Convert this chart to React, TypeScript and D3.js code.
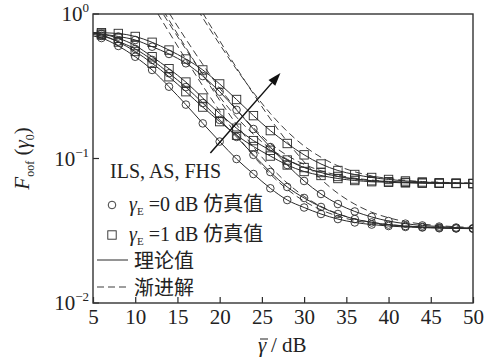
import React, { useEffect, useRef } from 'react';
import * as d3 from 'd3';

// x grid of the theory curves (markers are drawn from x = 6 on)
const gridX = [5, 6, 8, 10, 12, 14, 16, 18, 20, 22, 24, 26, 28, 30, 32, 34, 36, 38, 40, 42, 44, 46, 48, 50];

// gamma_E = 1 dB (squares)
const sq1 = [0.745, 0.742, 0.733, 0.699, 0.637, 0.563, 0.488, 0.41, 0.328, 0.256, 0.198, 0.156, 0.127, 0.106, 0.0916, 0.0826, 0.0775, 0.0739, 0.0716, 0.0699, 0.0688, 0.0679, 0.0675, 0.0671];
const sq2 = [0.739, 0.727, 0.679, 0.605, 0.506, 0.418, 0.338, 0.262, 0.205, 0.162, 0.133, 0.114, 0.0976, 0.0866, 0.08, 0.0751, 0.0721, 0.0702, 0.0691, 0.0684, 0.0678, 0.0675, 0.0673, 0.0671];
const sq3 = [0.733, 0.716, 0.64, 0.55, 0.456, 0.368, 0.29, 0.227, 0.18, 0.145, 0.121, 0.104, 0.0902, 0.0813, 0.0763, 0.0727, 0.0704, 0.0691, 0.0684, 0.0678, 0.0675, 0.0673, 0.0671, 0.0671];

// gamma_E = 0 dB (circles)
const ci1 = [0.739, 0.727, 0.699, 0.661, 0.594, 0.529, 0.456, 0.372, 0.29, 0.217, 0.16, 0.12, 0.0902, 0.0699, 0.0568, 0.0484, 0.043, 0.0394, 0.0369, 0.0354, 0.0344, 0.0338, 0.0333, 0.0329];
const ci2 = [0.721, 0.705, 0.645, 0.573, 0.481, 0.389, 0.312, 0.242, 0.185, 0.141, 0.106, 0.0806, 0.0635, 0.0533, 0.0462, 0.0413, 0.0381, 0.0361, 0.0349, 0.0341, 0.0336, 0.0332, 0.0329, 0.0327];
const ci3 = [0.705, 0.682, 0.601, 0.506, 0.41, 0.314, 0.236, 0.175, 0.131, 0.0992, 0.0781, 0.0622, 0.0516, 0.0458, 0.0413, 0.0381, 0.0361, 0.0349, 0.0341, 0.0336, 0.0333, 0.0329, 0.0328, 0.0327];

// asymptotic (dashed) curves
const asymX = [12, 14, 16, 18, 20, 22, 24, 26, 28, 30, 32, 34, 36, 38, 40, 42, 44, 46, 48, 50];
const asymSq1 = [3.54, 2.26, 1.449, 0.939, 0.617, 0.414, 0.286, 0.205, 0.154, 0.122, 0.102, 0.089, 0.0809, 0.0758, 0.0726, 0.0706, 0.0693, 0.0685, 0.068, 0.0677];
const asymCi1 = [3.95, 2.5, 1.59, 1.015, 0.653, 0.424, 0.28, 0.188, 0.131, 0.0947, 0.0718, 0.0574, 0.0483, 0.0425, 0.0389, 0.0366, 0.0352, 0.0343, 0.0337, 0.0333];
const asymSq2 = [1.58, 1.02, 0.67, 0.448, 0.307, 0.219, 0.163, 0.127, 0.105, 0.0911, 0.0822, 0.0767, 0.0731, 0.0709, 0.0695, 0.0686, 0.0681, 0.0677, 0.0675, 0.0673];
const asymCi2 = [1.42, 0.909, 0.585, 0.381, 0.253, 0.172, 0.12, 0.088, 0.0676, 0.0547, 0.0466, 0.0415, 0.0382, 0.0362, 0.0349, 0.0341, 0.0336, 0.0333, 0.0331, 0.0329];
const asymSq3 = [1.33, 0.863, 0.57, 0.384, 0.267, 0.193, 0.147, 0.117, 0.0988, 0.0871, 0.0797, 0.0751, 0.0721, 0.0703, 0.0691, 0.0684, 0.0679, 0.0676, 0.0674, 0.0673];
const asymCi3 = [1.17, 0.749, 0.485, 0.318, 0.213, 0.146, 0.104, 0.0779, 0.0612, 0.0507, 0.0441, 0.0399, 0.0372, 0.0356, 0.0345, 0.0338, 0.0334, 0.0332, 0.033, 0.0329];

const xTicks = [5, 10, 15, 20, 25, 30, 35, 40, 45, 50];
const yTicks = [1, 0.1, 0.01];
const yTickExp = ['0', '\u22121', '\u22122'];

// arrow annotation (data units)
const arrowFrom = [18.9, 0.109];
const arrowTo = [27.2, 0.39];

const SERIF = "'Liberation Serif', 'Noto Sans CJK SC', serif";

export default function App() {
  const ref = useRef<SVGSVGElement | null>(null);

  useEffect(() => {
    const svg = d3.select(ref.current);
    svg.selectAll('*').remove();

    const left = 93, right = 473, top = 14, bottom = 303;
    const x = d3.scaleLinear().domain([5, 50]).range([left, right]);
    const y = d3.scaleLog().domain([0.01, 1]).range([bottom, top]);
    const ink = '#2a2a2a';

    svg.append('rect').attr('width', 488).attr('height', 360).attr('fill', '#fff');

    svg.append('defs').append('clipPath').attr('id', 'plotClip')
      .append('rect').attr('x', left).attr('y', top)
      .attr('width', right - left).attr('height', bottom - top);

    const plot = svg.append('g').attr('clip-path', 'url(#plotClip)');

    const line = d3.line<[number, number]>()
      .x(d => x(d[0]))
      .y(d => y(d[1]))
      .curve(d3.curveMonotoneX);

    // dashed asymptotes
    [asymSq1, asymCi1, asymSq2, asymCi2, asymSq3, asymCi3].forEach(vals => {
      plot.append('path')
        .attr('d', line(asymX.map((v, i) => [v, vals[i]] as [number, number])))
        .attr('fill', 'none')
        .attr('stroke', '#333')
        .attr('stroke-width', 0.95)
        .attr('stroke-dasharray', '7,4');
    });

    // solid theory curves
    const squares = [sq1, sq2, sq3];
    const circles = [ci1, ci2, ci3];
    [...squares, ...circles].forEach(vals => {
      plot.append('path')
        .attr('d', line(gridX.map((v, i) => [v, vals[i]] as [number, number])))
        .attr('fill', 'none')
        .attr('stroke', ink)
        .attr('stroke-width', 1);
    });

    // simulation markers
    const pts = (vals: number[]) => gridX.map((v, i) => ({ x: v, y: vals[i] })).filter(d => d.x >= 6);
    circles.forEach(vals => {
      plot.selectAll(null)
        .data(pts(vals))
        .enter()
        .append('circle')
        .attr('cx', d => x(d.x))
        .attr('cy', d => y(d.y))
        .attr('r', 3.8)
        .attr('fill', 'none')
        .attr('stroke', ink)
        .attr('stroke-width', 0.9);
    });
    squares.forEach(vals => {
      plot.selectAll(null)
        .data(pts(vals))
        .enter()
        .append('rect')
        .attr('x', d => x(d.x) - 4.2)
        .attr('y', d => y(d.y) - 4.2)
        .attr('width', 8.4)
        .attr('height', 8.4)
        .attr('fill', 'none')
        .attr('stroke', ink)
        .attr('stroke-width', 0.9);
    });

    // arrow
    const ax0 = x(arrowFrom[0]), ay0 = y(arrowFrom[1]);
    const ax1 = x(arrowTo[0]), ay1 = y(arrowTo[1]);
    const ang = Math.atan2(ay1 - ay0, ax1 - ax0);
    const hl = 13, hw = 4.5;
    const bx = ax1 - hl * Math.cos(ang), by = ay1 - hl * Math.sin(ang);
    svg.append('line')
      .attr('x1', ax0).attr('y1', ay0).attr('x2', bx).attr('y2', by)
      .attr('stroke', '#111').attr('stroke-width', 1.5);
    svg.append('path')
      .attr('d', `M${ax1},${ay1} L${bx - hw * Math.sin(ang)},${by + hw * Math.cos(ang)} L${bx + hw * Math.sin(ang)},${by - hw * Math.cos(ang)} Z`)
      .attr('fill', '#111');

    // x axis
    const xAxis = d3.axisBottom(x).tickValues(xTicks).tickSize(-6).tickPadding(6).tickFormat(d3.format('d'));
    const gx = svg.append('g').attr('transform', `translate(0,${bottom})`).call(xAxis)
      .attr('font-family', SERIF).attr('font-size', 21);
    gx.select('.domain').remove();
    gx.selectAll('line').attr('stroke', ink).attr('stroke-width', 1.2);
    gx.selectAll('text').attr('font-family', SERIF).attr('font-size', 21).attr('fill', '#222');

    // y axis (log, custom labels)
    yTicks.forEach((v, i) => {
      svg.append('line')
        .attr('x1', left).attr('x2', left + 6)
        .attr('y1', y(v)).attr('y2', y(v))
        .attr('stroke', ink).attr('stroke-width', 1.2);
      const t = svg.append('text')
        .attr('x', 89).attr('y', y(v) + 7)
        .attr('text-anchor', 'end')
        .attr('font-family', SERIF).attr('font-size', 21).attr('fill', '#222');
      t.append('tspan').text('10');
      t.append('tspan').attr('font-size', 13).attr('dy', -9).text(yTickExp[i]);
    });

    // frame
    svg.append('rect')
      .attr('x', left).attr('y', top)
      .attr('width', right - left).attr('height', bottom - top)
      .attr('fill', 'none').attr('stroke', '#333').attr('stroke-width', 1.4);

    // x axis title: gamma with bar, then " / dB"
    svg.append('text')
      .attr('x', 258).attr('y', 352)
      .attr('font-family', SERIF).attr('font-size', 21).attr('font-style', 'italic').attr('fill', '#222')
      .text('\u03b3');
    svg.append('line')
      .attr('x1', 260).attr('x2', 268).attr('y1', 339).attr('y2', 339)
      .attr('stroke', '#222').attr('stroke-width', 1);
    svg.append('text')
      .attr('x', 271).attr('y', 352)
      .attr('font-family', SERIF).attr('font-size', 21).attr('fill', '#222')
      .text('/ dB');

    const yt = svg.append('text')
      .attr('transform', `translate(29,${(top + bottom) / 2}) rotate(-90)`)
      .attr('text-anchor', 'middle')
      .attr('font-family', SERIF).attr('font-size', 21).attr('fill', '#222');
    yt.append('tspan').attr('font-style', 'italic').text('F');
    yt.append('tspan').attr('font-size', 12).attr('dy', 5).text('oof');
    yt.append('tspan').attr('dy', -5).text(' (');
    yt.append('tspan').attr('font-style', 'italic').text('\u03b3');
    yt.append('tspan').attr('font-size', 12).attr('dy', 5).text('0');
    yt.append('tspan').attr('dy', -5).text(')');

    // legend
    const lg = svg.append('g').attr('font-family', SERIF).attr('font-size', 20).attr('fill', '#222');
    lg.append('text').attr('x', 110).attr('y', 178).text('ILS, AS, FHS');

    lg.append('circle').attr('cx', 112).attr('cy', 205).attr('r', 3.8)
      .attr('fill', 'none').attr('stroke', ink).attr('stroke-width', 0.9);
    const r1 = lg.append('text').attr('x', 129).attr('y', 211);
    r1.append('tspan').attr('font-style', 'italic').text('\u03b3');
    r1.append('tspan').attr('font-size', 11).attr('dy', 4).text('E');
    r1.append('tspan').attr('dy', -4).text(' =0 dB \u4eff\u771f\u503c');

    lg.append('rect').attr('x', 107.8).attr('y', 230.8).attr('width', 8.4).attr('height', 8.4)
      .attr('fill', 'none').attr('stroke', ink).attr('stroke-width', 0.9);
    const r2 = lg.append('text').attr('x', 129).attr('y', 241);
    r2.append('tspan').attr('font-style', 'italic').text('\u03b3');
    r2.append('tspan').attr('font-size', 11).attr('dy', 4).text('E');
    r2.append('tspan').attr('dy', -4).text(' =1 dB \u4eff\u771f\u503c');

    lg.append('line').attr('x1', 97).attr('x2', 128).attr('y1', 260).attr('y2', 260)
      .attr('stroke', ink).attr('stroke-width', 1);
    lg.append('text').attr('x', 134).attr('y', 268).text('\u7406\u8bba\u503c');

    lg.append('line').attr('x1', 97).attr('x2', 128).attr('y1', 287).attr('y2', 287)
      .attr('stroke', '#333').attr('stroke-width', 0.95).attr('stroke-dasharray', '7,4');
    lg.append('text').attr('x', 134).attr('y', 295).text('\u6e10\u8fdb\u89e3');
  }, []);

  return (
    <div style={{ position: 'fixed', left: 0, top: 0 }}>
      <svg ref={ref} width={488} height={360} style={{ display: 'block' }} />
    </div>
  );
}
